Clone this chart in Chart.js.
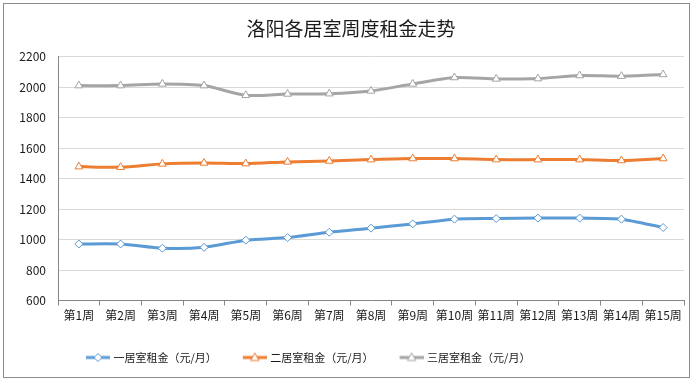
<!DOCTYPE html>
<html><head><meta charset="utf-8">
<script src="https://cdn.jsdelivr.net/npm/chart.js@4/dist/chart.umd.min.js"></script>
<style>html,body{margin:0;padding:0;background:#fff}#wrap{width:693px;height:381px;position:relative}</style>
</head><body><div id="wrap"><canvas id="c" width="693" height="381"></canvas></div>
<script>
const categories = ['第1周','第2周','第3周','第4周','第5周','第6周','第7周','第8周','第9周','第10周','第11周','第12周','第13周','第14周','第15周'];
const oneRoom = [971,971,943,949,996,1013,1048,1075,1103,1134,1138,1141,1141,1134,1079];
const twoRoom = [1479,1475,1497,1503,1499,1510,1516,1525,1532,1532,1525,1525,1525,1519,1532];
const threeRoom = [2011,2011,2022,2011,1947,1956,1958,1976,2022,2064,2055,2057,2077,2073,2084];
const seriesNames = ['一居室租金（元/月）','二居室租金（元/月）','三居室租金（元/月）'];
const yMin = 600, yMax = 2200, yStep = 200;
const titleText = '洛阳各居室周度租金走势';

const colors = ['#5B9BD5','#ED7D31','#A5A5A5'];
const shapes = ['rectRot','triangle','triangle'];
const FONT = "'Noto Sans CJK SC', 'Noto Sans', sans-serif";

function legendImage(color, shape){
  const c = document.createElement('canvas');
  c.width = 44; c.height = 12;
  const g = c.getContext('2d');
  g.strokeStyle = color; g.lineWidth = 3;
  g.beginPath(); g.moveTo(20,6); g.lineTo(44,6); g.stroke();
  g.lineWidth = 1; g.fillStyle = '#fff';
  g.beginPath();
  const cx = 32, cy = 6;
  if (shape === 'rectRot'){
    g.moveTo(cx, cy-4); g.lineTo(cx+4, cy); g.lineTo(cx, cy+4); g.lineTo(cx-4, cy); g.closePath();
  } else {
    g.moveTo(cx, cy-4.5); g.lineTo(cx+4.2, cy+3); g.lineTo(cx-4.2, cy+3); g.closePath();
  }
  g.fill(); g.stroke();
  return c;
}
const legendImgs = colors.map((c,i)=>legendImage(c, shapes[i]));

function ds(label, data, i){
  return {
    label, data,
    borderColor: colors[i], backgroundColor: '#fff',
    borderWidth: 3, tension: 0.25,
    pointStyle: shapes[i], pointRadius: i===0 ? 4 : 4.5,
    pointBorderWidth: 1, pointBorderColor: colors[i], pointBackgroundColor: '#fff',
    pointHoverRadius: 4
  };
}

const custom = {
  id: 'custom',
  beforeDraw(chart){
    const ctx = chart.ctx;
    ctx.save();
    ctx.fillStyle = '#fff'; ctx.fillRect(0,0,chart.width,chart.height);
    ctx.strokeStyle = '#8c8c8c'; ctx.lineWidth = 1;
    ctx.strokeRect(3.5,3.5,686,374);
    ctx.restore();
  },
  afterLayout(chart){
    const lg = chart.legend;
    if (lg) { lg.left = 60; }
    const t = chart.titleBlock;
    if (t) { t.left += 9; t.right += 9; }
  }
};

new Chart(document.getElementById('c'), {
  type: 'line',
  data: {
    labels: categories,
    datasets: [ds(seriesNames[0], oneRoom, 0), ds(seriesNames[1], twoRoom, 1), ds(seriesNames[2], threeRoom, 2)]
  },
  options: {
    responsive: false, animation: false, devicePixelRatio: 1,
    layout: { padding: { left: 0, right: 9, top: 0, bottom: 8 } },
    plugins: {
      tooltip: { enabled: false },
      title: {
        display: true, text: titleText, color: '#1a1a1a',
        font: { family: FONT, size: 19, weight: 'normal' },
        padding: { top: 17, bottom: 17 }
      },
      legend: {
        position: 'bottom', align: 'start',
        labels: {
          usePointStyle: true, pointStyleWidth: 40, boxHeight: 11,
          padding: 8, color: '#1a1a1a',
          font: { family: FONT, size: 11 },
          generateLabels(chart){
            const items = Chart.defaults.plugins.legend.labels.generateLabels(chart);
            items.forEach((it) => { it.pointStyle = legendImgs[it.datasetIndex]; });
            return items;
          }
        }
      }
    },
    scales: {
      x: {
        offset: true,
        grid: { display: true, drawOnChartArea: false, drawTicks: true, tickLength: 5, color: '#868686', offset: true },
        border: { display: true, color: '#868686' },
        ticks: { autoSkip: false, maxRotation: 0, minRotation: 0, padding: 3, color: '#1a1a1a', font: { family: FONT, size: 12 } },
        afterFit(s){ s.height = 43.5; }
      },
      y: {
        min: yMin, max: yMax,
        grid: { color: '#D9D9D9', drawTicks: false },
        border: { display: true, color: '#868686' },
        ticks: { stepSize: yStep, padding: 12, color: '#1a1a1a', font: { family: FONT, size: 12 },
          callback: (v) => String(v) },
        afterFit(s){ s.width = 58; }
      }
    }
  },
  plugins: [custom]
});
</script>
</body></html>
